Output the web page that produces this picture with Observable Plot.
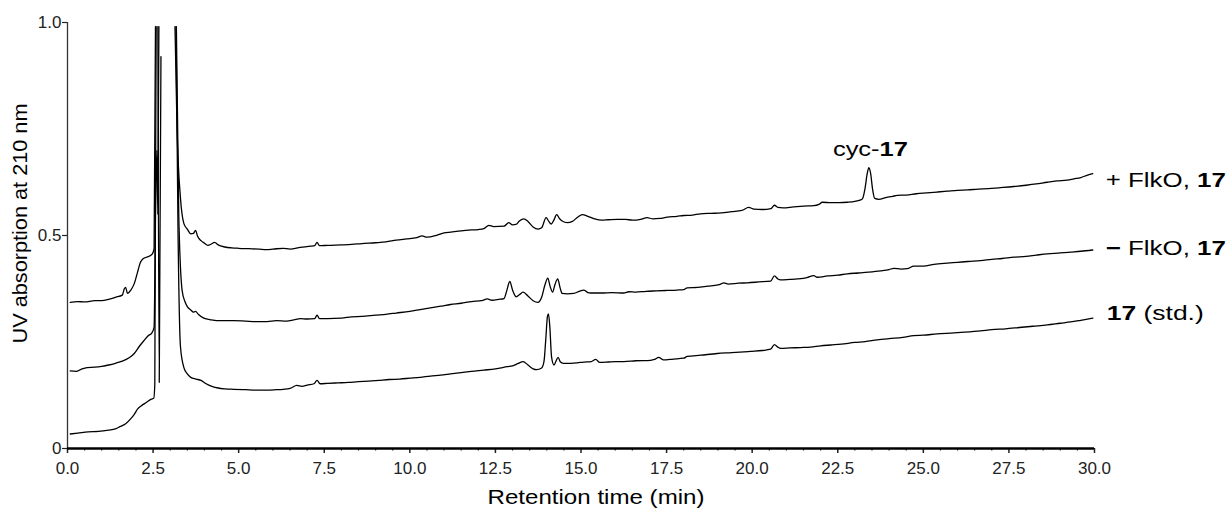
<!DOCTYPE html>
<html>
<head>
<meta charset="utf-8">
<script src="https://cdn.jsdelivr.net/npm/d3@7"></script>
<script src="https://cdn.jsdelivr.net/npm/@observablehq/plot@0.6"></script>
<style>
  html, body { margin: 0; padding: 0; background: #fff; }
</style>
</head>
<body>
<div id="chart"></div>
<script>
// ---- Data: [retention time (min), UV absorption] ; null = off-scale (above 1.0) ----
const plusFlkO = [
  [0.08,0.343],[0.3,0.345],[0.5,0.344],[0.8,0.347],[1.0,0.347],[1.2,0.350],[1.4,0.355],[1.6,0.360],
  [1.66,0.375],[1.7,0.378],[1.75,0.364],[1.85,0.372],[1.95,0.387],[2.05,0.415],[2.12,0.435],[2.2,0.445],
  [2.3,0.449],[2.4,0.452],[2.48,0.457],[2.53,0.47],[2.57,0.99],[2.6,null],
  [3.14,0.99],[3.2,0.75],[3.3,0.588],[3.4,0.528],[3.5,0.515],[3.6,0.504],[3.68,0.505],[3.74,0.512],
  [3.8,0.498],[3.9,0.488],[4.0,0.482],[4.1,0.477],[4.2,0.480],[4.3,0.484],[4.4,0.478],[4.6,0.473],
  [4.8,0.471],[5.0,0.470],[5.3,0.469],[5.6,0.468],[5.8,0.467],[6.0,0.468],[6.3,0.470],[6.5,0.468],
  [6.8,0.472],[7.1,0.475],[7.22,0.476],[7.29,0.484],[7.36,0.476],[7.6,0.477],[8.0,0.478],[8.3,0.479],
  [8.6,0.481],[9.0,0.483],[9.3,0.485],[9.6,0.489],[9.9,0.492],[10.2,0.495],[10.36,0.499],[10.5,0.496],
  [10.8,0.501],[11.0,0.506],[11.2,0.508],[11.5,0.511],[11.8,0.513],[12.0,0.514],[12.16,0.516],[12.31,0.524],
  [12.45,0.521],[12.75,0.522],[12.89,0.530],[13.0,0.525],[13.1,0.526],[13.2,0.534],[13.33,0.539],[13.45,0.533],
  [13.6,0.520],[13.75,0.515],[13.85,0.518],[13.98,0.542],[14.06,0.533],[14.13,0.527],[14.2,0.535],[14.29,0.549],
  [14.37,0.540],[14.45,0.534],[14.6,0.530],[14.75,0.533],[14.9,0.543],[15.04,0.549],[15.2,0.545],[15.4,0.539],
  [15.6,0.536],[15.8,0.537],[16.06,0.538],[16.3,0.538],[16.5,0.536],[16.74,0.538],[16.93,0.542],[17.1,0.539],
  [17.3,0.540],[17.52,0.543],[17.8,0.545],[18.0,0.547],[18.25,0.548],[18.49,0.551],[18.8,0.552],[19.1,0.553],
  [19.4,0.556],[19.7,0.559],[19.9,0.566],[20.05,0.562],[20.3,0.561],[20.55,0.563],[20.65,0.571],[20.75,0.566],
  [20.9,0.565],[21.2,0.567],[21.5,0.569],[21.8,0.570],[21.95,0.573],[22.05,0.578],[22.3,0.577],[22.55,0.577],
  [22.78,0.578],[23.0,0.580],[23.15,0.583],[23.22,0.586],[23.3,0.612],[23.36,0.645],[23.41,0.659],[23.46,0.646],
  [23.52,0.607],[23.58,0.587],[23.7,0.585],[23.9,0.589],[24.1,0.592],[24.24,0.594],[24.5,0.595],[24.8,0.598],
  [25.1,0.600],[25.4,0.602],[25.7,0.604],[26.0,0.606],[26.3,0.607],[26.6,0.609],[26.9,0.610],[27.2,0.612],
  [27.64,0.615],[28.0,0.618],[28.3,0.621],[28.62,0.625],[28.9,0.628],[29.2,0.630],[29.4,0.633],[29.6,0.636],
  [29.8,0.642],[29.95,0.645]
];

const minusFlkO = [
  [0.08,0.182],[0.25,0.181],[0.4,0.186],[0.57,0.190],[0.8,0.191],[1.0,0.193],[1.2,0.196],[1.4,0.200],
  [1.6,0.205],[1.8,0.213],[1.95,0.223],[2.1,0.240],[2.23,0.253],[2.35,0.264],[2.47,0.272],[2.53,0.285],
  [2.57,0.55],[2.61,0.70],[2.64,0.55],[2.67,0.99],[2.7,null],
  [3.18,0.99],[3.25,0.55],[3.35,0.370],[3.43,0.345],[3.5,0.333],[3.6,0.325],[3.68,0.320],[3.74,0.322],
  [3.82,0.315],[3.98,0.306],[4.2,0.302],[4.5,0.300],[4.86,0.300],[5.2,0.299],[5.5,0.298],[5.83,0.298],
  [6.1,0.300],[6.4,0.299],[6.61,0.302],[6.8,0.305],[7.0,0.304],[7.22,0.305],[7.29,0.313],[7.36,0.305],
  [7.6,0.305],[8.0,0.306],[8.3,0.309],[8.6,0.310],[9.0,0.313],[9.3,0.315],[9.6,0.318],[10.0,0.322],
  [10.3,0.326],[10.6,0.330],[10.9,0.334],[11.19,0.338],[11.5,0.341],[11.8,0.345],[12.1,0.347],[12.26,0.351],
  [12.4,0.348],[12.6,0.350],[12.75,0.352],[12.83,0.370],[12.92,0.392],[13.0,0.372],[13.11,0.356],[13.2,0.361],
  [13.31,0.367],[13.45,0.358],[13.6,0.347],[13.74,0.343],[13.85,0.355],[13.95,0.385],[14.03,0.400],[14.1,0.380],
  [14.17,0.367],[14.24,0.385],[14.32,0.398],[14.39,0.377],[14.45,0.364],[14.6,0.363],[14.79,0.364],[14.95,0.369],
  [15.08,0.372],[15.2,0.366],[15.28,0.365],[15.6,0.365],[15.9,0.366],[16.25,0.365],[16.4,0.368],[16.6,0.367],
  [16.9,0.369],[17.2,0.370],[17.5,0.371],[17.8,0.372],[18.0,0.373],[18.1,0.377],[18.4,0.378],[18.7,0.381],
  [19.0,0.384],[19.08,0.386],[19.17,0.389],[19.3,0.386],[19.6,0.388],[19.86,0.389],[20.2,0.391],[20.54,0.393],
  [20.65,0.405],[20.75,0.398],[20.83,0.396],[21.1,0.397],[21.32,0.398],[21.6,0.401],[21.8,0.406],[21.9,0.402],
  [22.2,0.405],[22.5,0.407],[22.78,0.410],[23.1,0.412],[23.4,0.414],[23.75,0.417],[24.0,0.420],[24.14,0.423],
  [24.35,0.421],[24.53,0.422],[24.72,0.428],[25.0,0.428],[25.31,0.432],[25.7,0.435],[26.0,0.437],[26.3,0.439],
  [26.67,0.441],[27.0,0.444],[27.3,0.446],[27.65,0.449],[28.0,0.451],[28.3,0.454],[28.62,0.457],[29.0,0.459],
  [29.3,0.461],[29.6,0.463],[29.95,0.466]
];

const std17 = [
  [0.08,0.034],[0.3,0.036],[0.6,0.039],[0.9,0.040],[1.2,0.043],[1.4,0.046],[1.55,0.052],[1.7,0.058],
  [1.85,0.070],[1.95,0.080],[2.05,0.093],[2.15,0.100],[2.3,0.108],[2.45,0.116],[2.52,0.118],[2.55,0.15],
  [2.59,0.99],[2.61,null],
  [2.64,0.99],[2.68,0.155],[2.73,0.92],[2.75,null],
  [3.17,0.99],[3.23,0.5],[3.3,0.239],[3.4,0.190],[3.5,0.175],[3.6,0.167],[3.75,0.163],[3.9,0.160],
  [4.05,0.152],[4.18,0.147],[4.4,0.142],[4.6,0.140],[4.86,0.139],[5.2,0.138],[5.5,0.137],[5.83,0.137],
  [6.1,0.138],[6.3,0.139],[6.5,0.141],[6.7,0.148],[6.85,0.146],[7.0,0.149],[7.2,0.152],[7.29,0.160],
  [7.38,0.152],[7.6,0.153],[7.9,0.154],[8.2,0.155],[8.5,0.157],[8.8,0.158],[9.1,0.160],[9.4,0.162],
  [9.7,0.163],[10.0,0.165],[10.3,0.167],[10.6,0.170],[10.9,0.172],[11.19,0.175],[11.5,0.178],[11.8,0.181],
  [12.16,0.184],[12.5,0.187],[12.85,0.192],[13.0,0.194],[13.15,0.199],[13.31,0.204],[13.45,0.196],[13.6,0.187],
  [13.7,0.185],[13.85,0.189],[13.92,0.205],[13.97,0.255],[14.02,0.310],[14.05,0.316],[14.09,0.285],[14.14,0.215],
  [14.21,0.196],[14.27,0.205],[14.33,0.214],[14.4,0.203],[14.48,0.200],[14.7,0.200],[14.89,0.201],[15.08,0.203],
  [15.3,0.204],[15.43,0.209],[15.55,0.202],[15.8,0.203],[16.0,0.204],[16.25,0.204],[16.6,0.206],[17.03,0.207],
  [17.15,0.209],[17.27,0.214],[17.4,0.208],[17.7,0.210],[18.0,0.212],[18.1,0.216],[18.5,0.219],[18.98,0.223],
  [19.4,0.225],[19.95,0.228],[20.3,0.230],[20.54,0.233],[20.65,0.244],[20.75,0.238],[20.83,0.235],[21.1,0.236],
  [21.41,0.237],[21.7,0.238],[22.0,0.241],[22.3,0.243],[22.6,0.245],[23.0,0.249],[23.3,0.251],[23.65,0.255],
  [24.0,0.258],[24.4,0.261],[24.72,0.265],[25.0,0.266],[25.4,0.269],[25.8,0.271],[26.2,0.273],[26.67,0.276],
  [27.0,0.279],[27.4,0.281],[27.8,0.284],[28.2,0.287],[28.62,0.290],[29.0,0.294],[29.3,0.297],[29.6,0.301],
  [29.95,0.306]
];

const xTicks = [0, 2.5, 5, 7.5, 10, 12.5, 15, 17.5, 20, 22.5, 25, 27.5, 30];
const yTicks = [0, 0.5, 1];
const yTickLabels = ["0", "0.5", "1.0"];
const seriesLabels = ["+ FlkO, 17", "\u2212 FlkO, 17", "17 (std.)"];
const peakLabel = "cyc-17";
const xTitle = "Retention time (min)";
const yTitle = "UV absorption at 210 nm";

// ---- Build tables ----
const toRows = arr => arr.map(([t, v]) => ({t, v}));
const series = [plusFlkO, minusFlkO, std17];
const endRows = series.map((s, i) => ({t: s[s.length - 1][0], v: s[s.length - 1][1], label: seriesLabels[i]}));
const peakRow = plusFlkO.filter(d => d[0] > 20 && d[1] != null)
  .reduce((a, b) => (b[1] > a[1] ? b : a));
const minorTicks = d3.range(0, 30.001, 0.5).filter(t => t % 2.5 !== 0);

const lineOpts = {x: "t", y: "v", stroke: "#000", strokeWidth: 1.3, curve: "monotone-x"};
const labelStyle = {fontSize: 20, fill: "#000"};

const chart = Plot.plot({
  width: 1232,
  height: 511,
  marginLeft: 67,
  marginRight: 138,
  marginTop: 22,
  marginBottom: 63,
  style: {fontFamily: "'Liberation Sans', Arial, Helvetica, sans-serif", fontSize: "17px", color: "#222", background: "#fff"},
  x: {domain: [0, 30]},
  y: {domain: [0, 1]},
  marks: [
    Plot.axisX({ticks: minorTicks, tickSize: 2.5, tickFormat: () => "", strokeWidth: 1.2, label: null}),
    Plot.axisX({ticks: xTicks, tickSize: 5, tickPadding: 8, tickFormat: d3.format(".1f"), strokeWidth: 1.5, label: null}),
    Plot.axisY({ticks: yTicks, tickSize: 5, tickPadding: 1, tickFormat: d => yTickLabels[yTicks.indexOf(d)], strokeWidth: 1.2, label: null}),
    Plot.ruleX([0], {stroke: "#333", strokeWidth: 1.3}),
    Plot.ruleY([0], {stroke: "#000", strokeWidth: 2.5}),
    Plot.line(toRows(plusFlkO), lineOpts),
    Plot.line(toRows(minusFlkO), lineOpts),
    Plot.line(toRows(std17), lineOpts),
    Plot.text([endRows[0]], {x: "t", y: "v", text: "label", dx: 13, dy: 7, textAnchor: "start", ...labelStyle}),
    Plot.text([endRows[1]], {x: "t", y: "v", text: "label", dx: 13, dy: -1.5, textAnchor: "start", ...labelStyle}),
    Plot.text([endRows[2]], {x: "t", y: "v", text: "label", dx: 14, dy: -4.5, textAnchor: "start", ...labelStyle}),
    Plot.text([{t: peakRow[0], v: peakRow[1], label: peakLabel}], {x: "t", y: "v", text: "label", dx: 1.5, dy: -18, ...labelStyle}),
    Plot.text([xTitle], {text: d => d, frameAnchor: "bottom", textAnchor: "middle", lineAnchor: "middle", dx: 15, dy: 49, fontSize: 21, fill: "#000"}),
    Plot.text([yTitle], {text: d => d, frameAnchor: "left", textAnchor: "middle", lineAnchor: "middle", rotate: -90, dx: -46.5, dy: -12, fontSize: 20, fill: "#000"})
  ]
});

// Rich text (bold compound numbers) and glyph widths
const rich = {
  "+ FlkO, 17": {html: '+ FlkO, <tspan font-weight="bold">17</tspan>', len: 120},
  "\u2212 FlkO, 17": {html: '<tspan font-weight="bold">\u2212</tspan> FlkO, <tspan font-weight="bold">17</tspan>', len: 120},
  "17 (std.)": {html: '<tspan font-weight="bold">17</tspan> (std.)', len: 97},
  "cyc-17": {html: 'cyc-<tspan font-weight="bold">17</tspan>', len: 75},
  "Retention time (min)": {html: null, len: 217},
  "UV absorption at 210 nm": {html: null, len: 240}
};
chart.querySelectorAll("text").forEach(el => {
  const r = rich[el.textContent];
  if (!r) return;
  if (r.html) el.innerHTML = r.html;
  el.setAttribute("textLength", r.len);
  el.setAttribute("lengthAdjust", "spacingAndGlyphs");
});

document.getElementById("chart").appendChild(chart);
</script>
</body>
</html>
